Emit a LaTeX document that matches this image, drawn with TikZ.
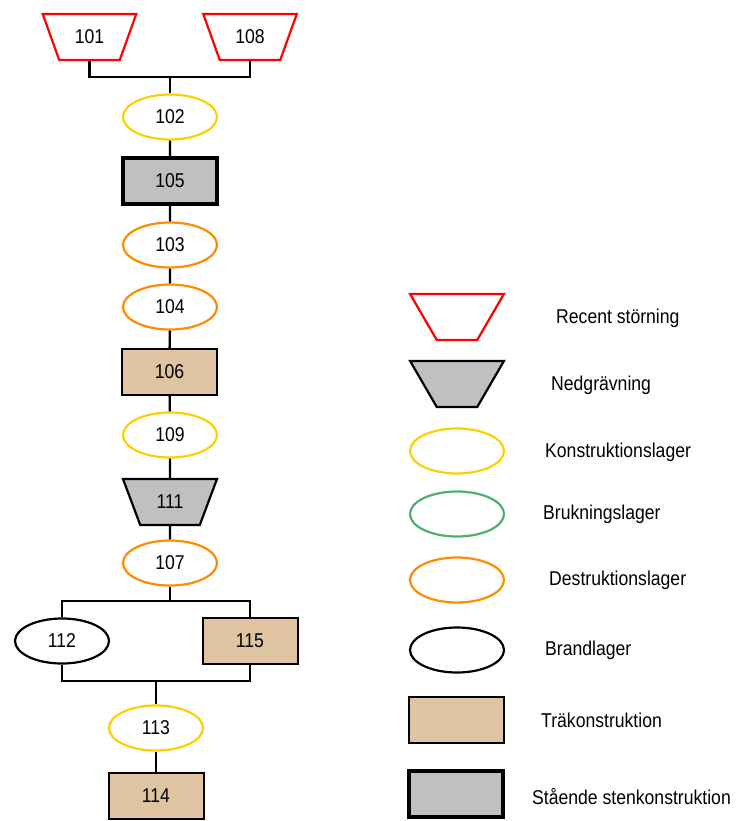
\documentclass[tikz,border=0pt]{standalone}
\usepackage{fontspec}
\setmainfont{Liberation Sans}[FakeStretch=0.88]
\usetikzlibrary{shapes.geometric, positioning}

\definecolor{recentred}{RGB}{255,0,0}
\definecolor{konstyellow}{RGB}{255,208,0}
\definecolor{brukgreen}{RGB}{76,176,112}
\definecolor{destorange}{RGB}{255,140,0}
\definecolor{trabrown}{RGB}{222,196,160}
\definecolor{stengray}{RGB}{192,192,192}

\tikzset{
  every node/.style={font=\fontsize{20}{24}\selectfont},
  layer/.style={ellipse, draw, line width=2.2pt, minimum width=94pt, minimum height=45pt, inner sep=0pt},
  konst/.style={layer, draw=konstyellow},
  bruk/.style={layer, draw=brukgreen},
  destr/.style={layer, draw=destorange},
  brand/.style={layer, draw=black},
  cut/.style={trapezium, shape border rotate=180, trapezium angle=63.4, line width=2.2pt,
    minimum width=94pt, minimum height=46pt, inner sep=2pt, trapezium stretches=true},
  recent/.style={cut, draw=recentred},
  nedgr/.style={cut, draw=black, fill=stengray},
  trabox/.style={rectangle, draw, line width=2pt, fill=trabrown, minimum width=95pt, minimum height=46pt},
  stenbox/.style={rectangle, draw, line width=4.2pt, fill=stengray, minimum width=94pt, minimum height=46pt},
  legtext/.style={anchor=west, inner sep=0pt},
  link/.style={draw, line width=2.4pt}
}

\begin{document}
\begin{tikzpicture}[x=1pt, y=-1pt]
\useasboundingbox (0,0) rectangle (737,821);

% matrix of contexts
\node[recent] (n101) at (89.5,37) {101};
\node[recent] (n108) at (250,37) {108};
\node[konst] (n102) at (170,117) {102};
\node[stenbox] (n105) at (170,181) {105};
\node[destr] (n103) at (170,245) {103};
\node[destr] (n104) at (170,307) {104};
\node[trabox] (n106) at (169.5,372) {106};
\node[konst] (n109) at (170,435) {109};
\node[nedgr] (n111) at (170,502) {111};
\node[destr] (n107) at (170,563) {107};
\node[brand] (n112) at (62,641) {112};
\node[trabox] (n115) at (250,641) {115};
\node[konst] (n113) at (156,728) {113};
\node[trabox] (n114) at (156,796) {114};

\coordinate (j1) at (170,77);
\coordinate (j2) at (170,601);
\coordinate (j3) at (156,681);

\draw[link] (n101.south) |- (j1) -| (n108.south);
\draw[link] (j1) -- (n102.north);
\draw[link] (n102) -- (n105) -- (n103) -- (n104) -- (n106) -- (n109) -- (n111) -- (n107);
\draw[link] (n107.south) -- (j2);
\draw[link] (n112.north) |- (j2) -| (n115.north);
\draw[link] (n112.south) |- (j3) -| (n115.south);
\draw[link] (j3) -- (n113.north);
\draw[link] (n113) -- (n114);

% legend
\node[recent] (lg1) at (457,317) {\phantom{0}};
\node[nedgr] (lg2) at (457,384) {\phantom{0}};
\node[konst] (lg3) at (457,451) {};
\node[bruk] (lg4) at (457,514) {};
\node[destr] (lg5) at (457,580) {};
\node[brand] (lg6) at (457,650) {};
\node[trabox] (lg7) at (456.5,720) {};
\node[stenbox] (lg8) at (456,794) {};

\node[legtext] (t1) at (556,318) {Recent störning};
\node[legtext] (t2) at (551,385) {Nedgrävning};
\node[legtext] (t3) at (545,452) {Konstruktionslager};
\node[legtext] (t4) at (543,514) {Brukningslager};
\node[legtext] (t5) at (549,580) {Destruktionslager};
\node[legtext] (t6) at (545,650) {Brandlager};
\node[legtext] (t7) at (541,720) {Träkonstruktion};
\node[legtext] (t8) at (532,797) {Stående stenkonstruktion};
\end{tikzpicture}
\end{document}
